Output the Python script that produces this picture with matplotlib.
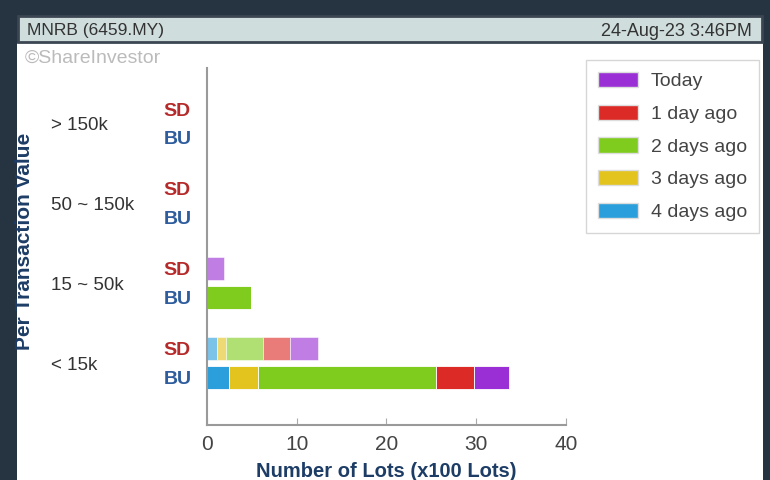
import numpy as np
import matplotlib.pyplot as plt
from matplotlib.patches import Rectangle, Patch

plt.rcParams['font.family'] = ['Liberation Sans', 'DejaVu Sans']

# categories top -> bottom
categories = ['> 150k', '50 ~ 150k', '15 ~ 50k', '< 15k']
series = ['4 days ago', '3 days ago', '2 days ago', '1 day ago', 'Today']
colors = ['#2a9fdc', '#e3c41f', '#80cc1e', '#dc2b26', '#9a2fd6']

# lots (x100) per series, per category
sd_vals = {
    '4 days ago': [0, 0, 0, 1.1],
    '3 days ago': [0, 0, 0, 1.0],
    '2 days ago': [0, 0, 0, 4.15],
    '1 day ago':  [0, 0, 0, 3.0],
    'Today':      [0, 0, 1.9, 3.1],
}
bu_vals = {
    '4 days ago': [0, 0, 0, 2.45],
    '3 days ago': [0, 0, 0, 3.2],
    '2 days ago': [0, 0, 4.9, 19.85],
    '1 day ago':  [0, 0, 0, 4.3],
    'Today':      [0, 0, 0, 3.9],
}
xticks = [0, 10, 20, 30, 40]

fig = plt.figure(figsize=(7.7, 4.8), dpi=100, facecolor='#263340')

# white panel + header bar
fig.patches.append(Rectangle((17/770, 0), 746/770, (480-43)/480, transform=fig.transFigure,
                             facecolor='white', edgecolor='none', zorder=-2))
fig.patches.append(Rectangle((18/770, (480-42)/480), 744/770, 26/480, transform=fig.transFigure,
                             facecolor='#cfdddd', edgecolor='#3b4652', linewidth=2, zorder=-1))
fig.text(27/770, 1 - 31/480, 'MNRB (6459.MY)', fontsize=12.5, color='#333333', va='center')
fig.text(752/770, 1 - 31/480, '24-Aug-23 3:46PM', fontsize=13, color='#333333', va='center', ha='right')
fig.text(25/770, 1 - 58/480, '©ShareInvestor', fontsize=14, color='#bbbbbb', va='center')

ax = fig.add_axes([207/770, 55/480, 359/770, 357/480])
ax.set_facecolor('none')

g = np.arange(len(categories))
off = 0.18
h = 0.29
sd_left = np.zeros(len(categories))
bu_left = np.zeros(len(categories))
for s, c in zip(series, colors):
    sv = np.array(sd_vals[s])
    bv = np.array(bu_vals[s])
    ax.barh(g - off, sv, height=h, left=sd_left, color=c, alpha=0.62,
            edgecolor='white', linewidth=0.6)
    ax.barh(g + off, bv, height=h, left=bu_left, color=c,
            edgecolor='white', linewidth=0.6)
    sd_left += sv
    bu_left += bv

ax.set_xlim(0, 40)
ax.set_ylim(3.78, -0.69)
ax.set_xticks(xticks)
ax.set_xticklabels([str(t) for t in xticks], fontsize=15, color='#444444')
ax.tick_params(axis='x', direction='in', length=5, color='#aaaaaa', pad=7)
ax.set_yticks([])
for side in ['top', 'right']:
    ax.spines[side].set_visible(False)
ax.spines['left'].set_color('#9a9a9a')
ax.spines['left'].set_linewidth(1.5)
ax.spines['bottom'].set_color('#9a9a9a')
ax.spines['bottom'].set_linewidth(1.5)

ax.set_xlabel('Number of Lots (x100 Lots)', fontsize=14.5, fontweight='bold', color='#1d3d66', labelpad=6)

# row labels
for i, cat in enumerate(categories):
    ax.text(-17.4, i + 0.03, cat, fontsize=13.5, color='#333333', va='center', ha='left')
    ax.text(-3.3, i - off + 0.03, 'SD', fontsize=14, fontweight='bold', color='#b52a2a', va='center', ha='center')
    ax.text(-3.3, i + off + 0.03, 'BU', fontsize=14, fontweight='bold', color='#2e5c9c', va='center', ha='center')

fig.text(25/770, 1 - 241/480, 'Per Transaction Value', rotation=90, fontsize=15, fontweight='bold',
         color='#1d3d66', va='center', ha='center')

handles = [Patch(facecolor=c, edgecolor='#dddddd') for c in colors[::-1]]
leg = fig.legend(handles, series[::-1], loc='upper left', bbox_to_anchor=(586/770, 1 - 60/480),
                 borderaxespad=0, fontsize=14, frameon=True, handlelength=2.05, handleheight=0.82,
                 labelspacing=0.74, borderpad=0.62, handletextpad=0.66, fancybox=False,
                 labelcolor='#444444')
leg.get_frame().set_edgecolor('#cccccc')
leg.get_frame().set_linewidth(1)

fig.savefig('out.png', dpi=100, facecolor=fig.get_facecolor())
